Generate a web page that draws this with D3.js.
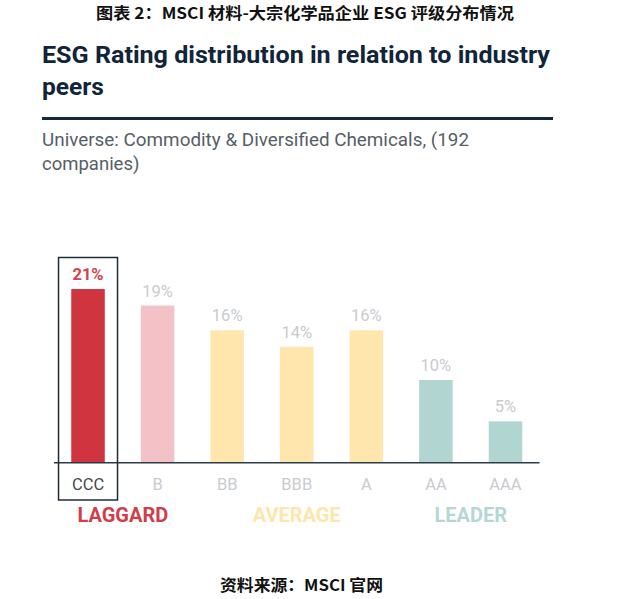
<!DOCTYPE html>
<html><head><meta charset="utf-8">
<script src="https://cdn.jsdelivr.net/npm/d3@7/dist/d3.min.js"></script>
<style>body{margin:0;background:#fff;}svg{display:block;}</style>
</head><body>
<svg id="c" width="637" height="599"></svg>
<script>
const categories = ["CCC","B","BB","BBB","A","AA","AAA"];
const values = [21,19,16,14,16,10,5];
const barColors = ["#d0343f","#f3c2c6","#fee6ad","#fee6ad","#fee6ad","#b1d5d1","#b1d5d1"];
const groups = [
  {name:"LAGGARD", from:"CCC", to:"B", color:"#d13d48"},
  {name:"AVERAGE", from:"BBB", to:"BBB", color:"#fde6ab"},
  {name:"LEADER", from:"AA", to:"AAA", color:"#b5d7d3"}
];
const highlight = "CCC";

const svg = d3.select("#c");
const font = "Roboto, 'Noto Sans', sans-serif";
const cjk = "'Noto Sans CJK SC', sans-serif";

svg.append("text").attr("x",96).attr("y",19).attr("font-family",cjk).attr("font-weight",700)
  .attr("font-size",16).attr("fill","#111").attr("textLength",418).attr("lengthAdjust","spacingAndGlyphs")
  .text("图表 2：MSCI 材料-大宗化学品企业 ESG 评级分布情况");

svg.append("text").attr("x",42).attr("y",62.5).attr("font-family",font).attr("font-weight",700)
  .attr("font-size",24.5).attr("fill","#10243a").attr("textLength",508).attr("lengthAdjust","spacingAndGlyphs")
  .text("ESG Rating distribution in relation to industry");
svg.append("text").attr("x",42).attr("y",94.5).attr("font-family",font).attr("font-weight",700)
  .attr("font-size",24.5).attr("fill","#10243a").text("peers");

svg.append("line").attr("x1",42).attr("x2",553).attr("y1",118.5).attr("y2",118.5)
  .attr("stroke","#15293b").attr("stroke-width",3);

svg.append("text").attr("x",42).attr("y",145.5).attr("font-family",font)
  .attr("font-size",18.5).attr("fill","#555e66").attr("textLength",427).attr("lengthAdjust","spacingAndGlyphs")
  .text("Universe: Commodity & Diversified Chemicals, (192");
svg.append("text").attr("x",42).attr("y",169.5).attr("font-family",font)
  .attr("font-size",18.5).attr("fill","#555e66").text("companies)");

const x = d3.scaleBand().domain(categories).range([54,539.5]).paddingInner(0.518).paddingOuter(0.248);
const y = d3.scaleLinear().domain([0,25]).range([462.7, 462.7-25*8.27]);

const g = svg.append("g");
g.selectAll("rect.bar").data(categories).join("rect").attr("class","bar")
  .attr("x",d=>x(d)).attr("width",x.bandwidth())
  .attr("y",(d,i)=>y(values[i])).attr("height",(d,i)=>y(0)-y(values[i]))
  .attr("fill",(d,i)=>barColors[i]);

g.selectAll("text.val").data(categories).join("text").attr("class","val")
  .attr("x",d=>x(d)+x.bandwidth()/2).attr("y",(d,i)=>y(values[i])-9)
  .attr("text-anchor","middle").attr("font-family",font).attr("font-size",16.5)
  .attr("font-weight",d=>d===highlight?700:400)
  .attr("fill",d=>d===highlight?"#d2434e":"#c9cbce")
  .text((d,i)=>values[i]+"%");

const axis = d3.axisBottom(x).tickSize(0).tickPadding(0);
const ax = g.append("g").attr("transform",`translate(0,${y(0)})`).call(axis);
ax.select(".domain").attr("d",`M54,0H539.5`).attr("stroke","#2c3c4a").attr("stroke-width",1.6);
ax.selectAll(".tick text").attr("y",27).attr("dy",0).attr("font-family",font).attr("font-size",16.5)
  .attr("fill",d=>d===highlight?"#3f4a55":"#c9cbce");

// highlight box
const hx = x(highlight)+x.bandwidth()/2;
svg.append("rect").attr("x",hx-29.5).attr("y",257.5).attr("width",59).attr("height",242.5)
  .attr("fill","none").attr("stroke","#1e2c3a").attr("stroke-width",1.5);

svg.selectAll("text.grp").data(groups).join("text").attr("class","grp")
  .attr("x",d=>(x(d.from)+x(d.to)+x.bandwidth())/2).attr("y",522)
  .attr("text-anchor","middle").attr("font-family",font).attr("font-weight",700).attr("font-size",20)
  .attr("fill",d=>d.color).text(d=>d.name);

svg.append("text").attr("x",220).attr("y",591).attr("font-family",cjk).attr("font-weight",700)
  .attr("font-size",16).attr("fill","#111").attr("textLength",163).attr("lengthAdjust","spacingAndGlyphs")
  .text("资料来源：MSCI 官网");
</script>
</body></html>
